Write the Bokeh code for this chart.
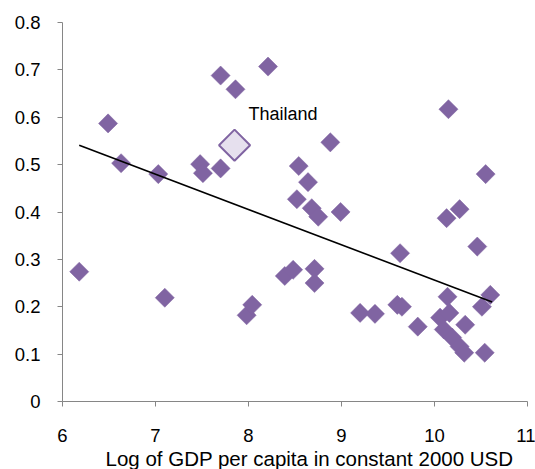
import numpy as np
from bokeh.plotting import figure
from bokeh.models import ColumnDataSource, FixedTicker, Title
from bokeh.core.properties import value
from bokeh.embed import file_html
from bokeh.resources import INLINE

# Data: log GDP per capita vs. value
gdp_log = [6.18, 6.49, 6.63, 7.03, 7.10, 7.48, 7.51, 7.70, 7.70, 7.86,
           8.21, 7.98, 8.04, 10.15, 8.88, 8.54, 8.64, 8.52, 8.68, 8.75,
           8.99, 10.55, 10.27, 10.13, 10.46, 9.63, 8.39, 8.48, 8.71, 8.71,
           9.20, 9.36, 9.60, 9.65, 9.82, 10.14, 10.60, 10.51, 10.06, 10.16,
           10.33, 10.10, 10.19, 10.27, 10.32, 10.54]
share = [0.274, 0.587, 0.503, 0.480, 0.219, 0.501, 0.482, 0.492, 0.688, 0.659,
         0.707, 0.182, 0.204, 0.617, 0.547, 0.497, 0.463, 0.427, 0.408, 0.390,
         0.400, 0.480, 0.406, 0.387, 0.327, 0.313, 0.265, 0.278, 0.280, 0.250,
         0.187, 0.185, 0.204, 0.200, 0.158, 0.221, 0.225, 0.200, 0.177, 0.187,
         0.162, 0.152, 0.135, 0.116, 0.103, 0.103]

highlight_name = ["Thailand"]
highlight_x = [7.85]
highlight_y = [0.541]

trend_x = [6.18, 10.62]
trend_y = [0.541, 0.210]

x_ticks = [6, 7, 8, 9, 10, 11]
y_ticks = [0, 0.1, 0.2, 0.3, 0.4, 0.5, 0.6, 0.7, 0.8]
y_tick_labels = ["0", "0.1", "0.2", "0.3", "0.4", "0.5", "0.6", "0.7", "0.8"]
x_label = "Log of GDP per capita in constant 2000 USD"

PURPLE = "#8064a2"
FONT = "Liberation Sans"

p = figure(width=535, height=469, output_backend="svg", toolbar_location=None,
           x_range=(6, 11), y_range=(0, 0.8),
           min_border_left=62, min_border_right=8, min_border_top=22,
           min_border_bottom=67)
p.outline_line_color = None
p.xgrid.visible = False
p.ygrid.visible = False
p.background_fill_color = "white"
p.border_fill_color = "white"

src = ColumnDataSource(dict(x=gdp_log, y=share))
p.scatter("x", "y", source=src, marker="square", angle=np.pi / 4, size=13.5,
          fill_color=PURPLE, line_color=PURPLE, line_width=0.5)

p.line(trend_x, trend_y, line_color="black", line_width=1.6)

hsrc = ColumnDataSource(dict(x=highlight_x, y=highlight_y, name=highlight_name))
p.scatter("x", "y", source=hsrc, marker="square", angle=np.pi / 4, size=22,
          fill_color="#e6e0ee", line_color=PURPLE, line_width=2)
p.text("x", "y", text="name", source=hsrc, x_offset=14, y_offset=-31,
       text_font=value(FONT), text_font_size="18px", text_baseline="middle",
       text_align="left", text_color="black")

for ax in (p.xaxis[0], p.yaxis[0]):
    ax.axis_line_color = "#868686"
    ax.major_tick_line_color = "#868686"
    ax.minor_tick_line_color = None
    ax.major_tick_in = 0
    ax.major_tick_out = 5
    ax.major_label_text_font = FONT
    ax.major_label_text_font_size = "18.5px"
    ax.major_label_text_color = "black"

p.xaxis.ticker = FixedTicker(ticks=x_ticks)
p.yaxis.ticker = FixedTicker(ticks=y_ticks)
p.yaxis.major_label_overrides = {t: l for t, l in zip(y_ticks, y_tick_labels)}
p.xaxis.major_label_standoff = 22
p.yaxis.major_label_standoff = 17

# x-axis title, slightly right of centre as in the reference
p.add_layout(Title(text=x_label, align="left", offset=43, standoff=0,
                   text_font=FONT, text_font_size="20.5px",
                   text_font_style="normal", text_color="black"), "below")

open("out.html", "w").write(file_html(p, INLINE))
